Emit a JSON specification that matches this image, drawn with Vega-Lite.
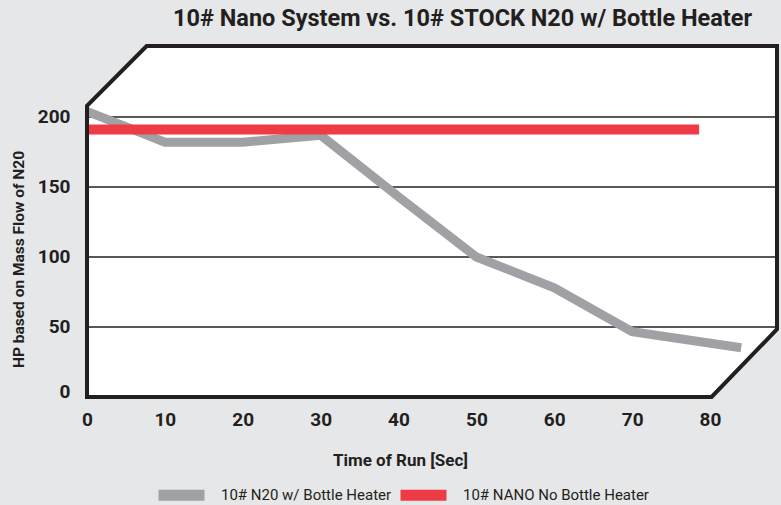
{
  "$schema": "https://vega.github.io/schema/vega-lite/v6.json",
  "width": 690,
  "height": 351,
  "autosize": {"type": "none"},
  "padding": {"left": 87, "top": 46, "right": 4, "bottom": 108},
  "background": "#e6e7e8",
  "config": {
    "view": {"stroke": null},
    "font": "Roboto, sans-serif"
  },
  "title": {
    "text": "10# Nano System vs. 10# STOCK N20 w/ Bottle Heater",
    "anchor": "start",
    "frame": "group",
    "dx": 86,
    "dy": 27,
    "fontSize": 23.5,
    "fontWeight": "bold",
    "font": "Roboto",
    "color": "#231f20",
    "baseline": "alphabetic",
    "offset": 16
  },
  "datasets": {
    "frameFill": [
      {"x": 0, "y": 208, "y2": 0},
      {"x": 7.66, "y": 250.7, "y2": 0},
      {"x": 80.2, "y": 250.7, "y2": 0},
      {"x": 88.6, "y": 250.7, "y2": 48.4}
    ],
    "frameLine": [
      {"k": 0, "x": 0, "y": 0},
      {"k": 1, "x": 0, "y": 208},
      {"k": 2, "x": 7.66, "y": 250.7},
      {"k": 3, "x": 88.6, "y": 250.7},
      {"k": 4, "x": 88.6, "y": 48.4},
      {"k": 5, "x": 80.2, "y": 0},
      {"k": 6, "x": 0, "y": 0}
    ],
    "grid": [{"y": 50}, {"y": 100}, {"y": 150}, {"y": 200}],
    "series": [
      {"series": "10# N20 w/ Bottle Heater", "x": 0, "y": 204},
      {"series": "10# N20 w/ Bottle Heater", "x": 10, "y": 182},
      {"series": "10# N20 w/ Bottle Heater", "x": 20, "y": 182},
      {"series": "10# N20 w/ Bottle Heater", "x": 30, "y": 187},
      {"series": "10# N20 w/ Bottle Heater", "x": 40, "y": 143},
      {"series": "10# N20 w/ Bottle Heater", "x": 50, "y": 100},
      {"series": "10# N20 w/ Bottle Heater", "x": 60, "y": 78},
      {"series": "10# N20 w/ Bottle Heater", "x": 70, "y": 46.6},
      {"series": "10# N20 w/ Bottle Heater", "x": 84, "y": 35.2},
      {"series": "10# NANO No Bottle Heater", "x": 0, "y": 191},
      {"series": "10# NANO No Bottle Heater", "x": 78.6, "y": 191}
    ]
  },
  "layer": [
    {
      "data": {"name": "frameFill"},
      "mark": {"type": "area", "color": "#ffffff", "opacity": 1},
      "encoding": {
        "x": {
          "field": "x", "type": "quantitative",
          "scale": {"domain": [0, 88.6], "nice": false, "zero": false},
          "axis": {
            "values": [0, 10, 20, 30, 40, 50, 60, 70, 80],
            "domain": false, "ticks": false, "grid": false,
            "labelFlush": false,
            "labelFont": "Roboto",
            "labelFontSize": 19, "labelFontWeight": "bold", "labelColor": "#231f20",
            "labelPadding": 13,
            "title": "Time of Run [Sec]",
            "titleFont": "Roboto",
            "titleFontSize": 17, "titleFontWeight": "bold", "titleColor": "#231f20",
            "titleX": 313, "titleY": 68.7, "titleBaseline": "alphabetic", "titleAlign": "center"
          }
        },
        "y": {
          "field": "y", "type": "quantitative",
          "scale": {"domain": [0, 250.7], "nice": false, "zero": false},
          "axis": {
            "values": [0, 50, 100, 150, 200],
            "domain": false, "ticks": false, "grid": false,
            "labelFlush": false,
            "labelFont": "Roboto",
            "labelFontSize": 19, "labelFontWeight": "bold", "labelColor": "#231f20",
            "labelPadding": 17,
            "labelBaseline": {"condition": {"test": "datum.value == 0", "value": "alphabetic"}, "value": "middle"},
            "title": "HP based on Mass Flow of N20",
            "titleFont": "Roboto",
            "titleFontSize": 15.5, "titleFontWeight": "bold", "titleColor": "#231f20",
            "titleX": -64, "titleY": 213, "titleAngle": -90, "titleBaseline": "alphabetic", "titleAlign": "center"
          }
        },
        "y2": {"field": "y2"}
      }
    },
    {
      "data": {"name": "grid"},
      "mark": {"type": "rule", "color": "#231f20", "strokeWidth": 1.5},
      "encoding": {
        "y": {"field": "y", "type": "quantitative", "axis": {"title": "HP based on Mass Flow of N20"}}
      }
    },
    {
      "data": {"name": "series"},
      "transform": [{"filter": "datum.series == '10# N20 w/ Bottle Heater'"}],
      "mark": {"type": "line", "strokeWidth": 9, "strokeCap": "butt", "strokeJoin": "miter"},
      "encoding": {
        "x": {"field": "x", "type": "quantitative", "axis": {"title": "Time of Run [Sec]"}},
        "y": {"field": "y", "type": "quantitative", "axis": {"title": "HP based on Mass Flow of N20"}},
        "color": {
          "field": "series", "type": "nominal",
          "scale": {"domain": ["10# N20 w/ Bottle Heater", "10# NANO No Bottle Heater"], "range": ["#a0a1a4", "#ef3b46"]},
          "legend": {
            "orient": "none", "legendX": 66, "legendY": 420.5,
            "direction": "horizontal", "title": null,
            "symbolType": "stroke", "symbolSize": 2116, "symbolStrokeWidth": 11,
            "labelFont": "Roboto",
            "labelFontSize": 15, "labelColor": "#231f20", "labelLimit": 0,
            "labelOffset": 11, "columnPadding": -14
          }
        }
      }
    },
    {
      "data": {"name": "series"},
      "transform": [{"filter": "datum.series == '10# NANO No Bottle Heater'"}],
      "mark": {"type": "line", "strokeWidth": 10, "strokeCap": "butt"},
      "encoding": {
        "x": {"field": "x", "type": "quantitative", "axis": {"title": "Time of Run [Sec]"}},
        "y": {"field": "y", "type": "quantitative", "axis": {"title": "HP based on Mass Flow of N20"}},
        "color": {"field": "series", "type": "nominal"}
      }
    },
    {
      "data": {"name": "frameLine"},
      "mark": {"type": "line", "color": "#231f20", "strokeWidth": 4, "strokeJoin": "miter", "strokeCap": "square"},
      "encoding": {
        "x": {"field": "x", "type": "quantitative", "axis": {"title": "Time of Run [Sec]"}},
        "y": {"field": "y", "type": "quantitative", "axis": {"title": "HP based on Mass Flow of N20"}},
        "order": {"field": "k", "type": "quantitative"}
      }
    }
  ]
}
